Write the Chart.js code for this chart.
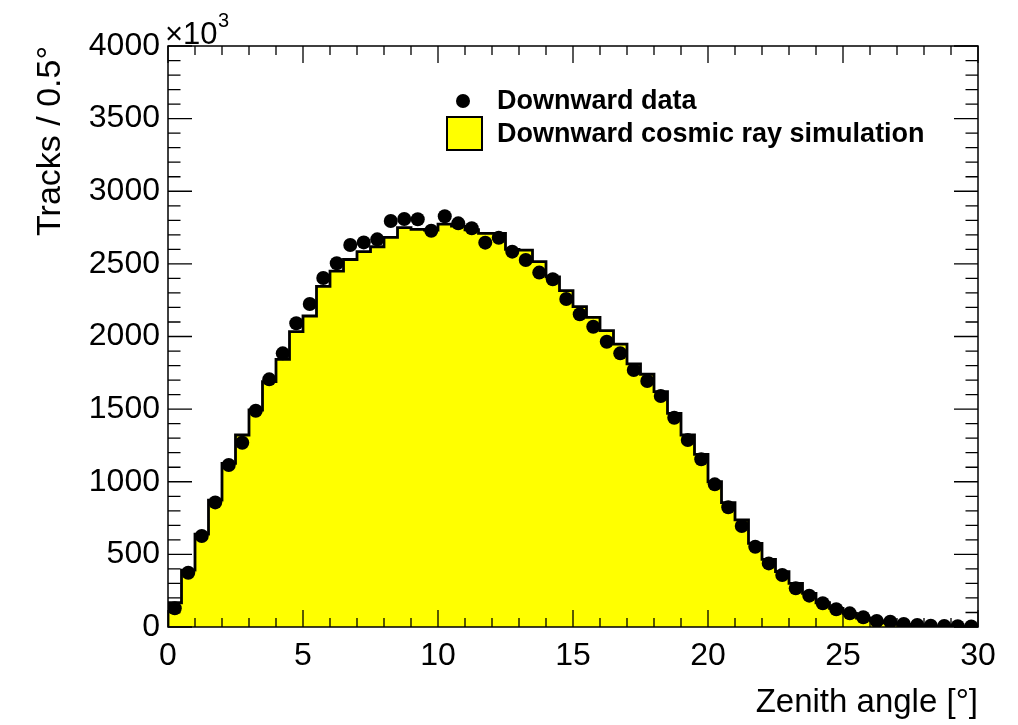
<!DOCTYPE html>
<html><head><meta charset="utf-8">
<script src="https://cdn.jsdelivr.net/npm/chart.js@4/dist/chart.umd.min.js"></script>
<style>html,body{margin:0;padding:0;background:#fff;}#wrap{width:1018px;height:725px;}</style>
</head><body><div id="wrap"><canvas id="c" width="1018" height="725"></canvas></div>
<script>
// Bin low edges (degrees), bin width 0.5
const binLow = [0,0.5,1,1.5,2,2.5,3,3.5,4,4.5,5,5.5,6,6.5,7,7.5,8,8.5,9,9.5,
  10,10.5,11,11.5,12,12.5,13,13.5,14,14.5,15,15.5,16,16.5,17,17.5,18,18.5,19,19.5,
  20,20.5,21,21.5,22,22.5,23,23.5,24,24.5,25,25.5,26,26.5,27,27.5,28,28.5,29,29.5];
const binWidth = 0.5;
// Downward data (x10^3 tracks per 0.5 deg)
const dataValues = [129,374,626,858,1115,1269,1489,1705,1884,2091,
  2224,2403,2504,2630,2648,2669,2795,2809,2807,2728,
  2828,2779,2745,2646,2680,2584,2527,2440,2394,2258,
  2153,2067,1964,1884,1769,1694,1590,1441,1287,1155,
  982,824,695,553,438,358,266,216,163,122,
  94,67,41,36,21,14,9,7,5,4];
// Downward cosmic ray simulation (x10^3 tracks per 0.5 deg)
const simValues = [167,392,640,874,1127,1322,1494,1689,1843,2033,
  2141,2345,2450,2530,2584,2618,2683,2750,2737,2733,
  2774,2760,2735,2710,2710,2600,2595,2515,2411,2316,
  2205,2131,2040,1948,1811,1740,1620,1471,1322,1189,
  1000,856,737,576,466,381,301,232,167,128,
  94,62,42,28,18,12,8,5,4,3];
const xTicks = [0,5,10,15,20,25,30];
const yTicks = [0,500,1000,1500,2000,2500,3000,3500,4000];
const xLabel = 'Zenith angle [°]';
const yLabel = 'Tracks / 0.5°';
const legendData = 'Downward data';
const legendSim = 'Downward cosmic ray simulation';

const FONT = '"Liberation Sans", Arial, Helvetica, sans-serif';
const xMax = binLow[binLow.length-1] + binWidth;

// histogram outline points (step "before": value extends to the right)
const histPts = [{x: binLow[0], y: 0}];
binLow.forEach((lo, i) => histPts.push({x: lo, y: simValues[i]}));
histPts.push({x: xMax, y: 0});
const dataPts = binLow.map((lo, i) => ({x: lo + binWidth/2, y: dataValues[i]}));

const frameTicks = {
  id: 'frameTicks',
  afterDatasetsDraw(chart) {
    const ctx = chart.ctx, a = chart.chartArea;
    const xs = chart.scales.x, ys = chart.scales.y;
    ctx.save();
    ctx.strokeStyle = '#000';
    ctx.lineWidth = 1.5;
    ctx.strokeRect(a.left, a.top, a.right - a.left, a.bottom - a.top);
    ctx.lineWidth = 1.3;
    ctx.beginPath();
    for (let v = 0; v <= 30; v += 1) {
      const px = xs.getPixelForValue(v);
      const len = (v % 5 === 0) ? 17 : 9;
      ctx.moveTo(px, a.bottom); ctx.lineTo(px, a.bottom - len);
      ctx.moveTo(px, a.top); ctx.lineTo(px, a.top + len);
    }
    for (let v = 0; v <= 4000; v += 100) {
      const py = ys.getPixelForValue(v);
      const len = (v % 500 === 0) ? 24 : 12.5;
      ctx.moveTo(a.left, py); ctx.lineTo(a.left + len, py);
      ctx.moveTo(a.right, py); ctx.lineTo(a.right - len, py);
    }
    ctx.stroke();
    // x10^3
    ctx.fillStyle = '#000';
    ctx.textBaseline = 'alphabetic';
    ctx.textAlign = 'left';
    ctx.font = '31px ' + FONT;
    ctx.fillText('×10', 165, 44);
    ctx.font = '20px ' + FONT;
    ctx.fillText('3', 218, 27);
    // legend
    ctx.beginPath();
    ctx.arc(463, 101, 7, 0, Math.PI*2);
    ctx.fill();
    ctx.fillStyle = '#ffff00';
    ctx.fillRect(447, 117, 35, 33);
    ctx.lineWidth = 2;
    ctx.strokeStyle = '#000';
    ctx.strokeRect(447, 117, 35, 33);
    ctx.fillStyle = '#000';
    ctx.font = 'bold 27px ' + FONT;
    ctx.textBaseline = 'middle';
    ctx.fillText(legendData, 497, 102);
    ctx.fillText(legendSim, 497, 135);
    ctx.restore();
  }
};

new Chart(document.getElementById('c'), {
  type: 'scatter',
  data: {
    datasets: [
      {
        type: 'scatter',
        label: legendData,
        data: dataPts,
        order: 0,
        pointRadius: 7,
        pointBackgroundColor: '#000',
        pointBorderWidth: 0,
        showLine: false
      },
      {
        type: 'line',
        label: legendSim,
        data: histPts,
        order: 1,
        stepped: 'before',
        borderColor: '#000',
        borderWidth: 2.8,
        backgroundColor: '#ffff00',
        fill: 'origin',
        pointRadius: 0,
        tension: 0
      }
    ]
  },
  options: {
    responsive: false,
    devicePixelRatio: 1,
    animation: false,
    layout: {padding: {top: 46, right: 40, bottom: 0, left: 0}},
    plugins: {legend: {display: false}, tooltip: {enabled: false}},
    scales: {
      x: {
        type: 'linear', min: 0, max: xMax,
        afterBuildTicks(s) { s.ticks = xTicks.map(v => ({value: v})); },
        afterFit(s) { s.height = 98; },
        grid: {display: false, drawTicks: false},
        border: {display: false},
        ticks: {color: '#000', font: {family: FONT, size: 32}, padding: 10, maxRotation: 0, autoSkip: false,
                callback: v => String(v)},
        title: {display: true, text: xLabel, align: 'end', color: '#000',
                font: {family: FONT, size: 33}, padding: {top: 2, bottom: 2}}
      },
      y: {
        type: 'linear', min: 0, max: 4000,
        afterBuildTicks(s) { s.ticks = yTicks.map(v => ({value: v})); },
        afterFit(s) { s.width = 168; },
        grid: {display: false, drawTicks: false},
        border: {display: false},
        ticks: {color: '#000', font: {family: FONT, size: 32}, padding: 8, autoSkip: false,
                callback: v => String(v)},
        title: {display: true, text: yLabel, align: 'end', color: '#000',
                font: {family: FONT, size: 34}, padding: {top: 30, bottom: 0}}
      }
    }
  },
  plugins: [frameTicks]
});
</script></body></html>
